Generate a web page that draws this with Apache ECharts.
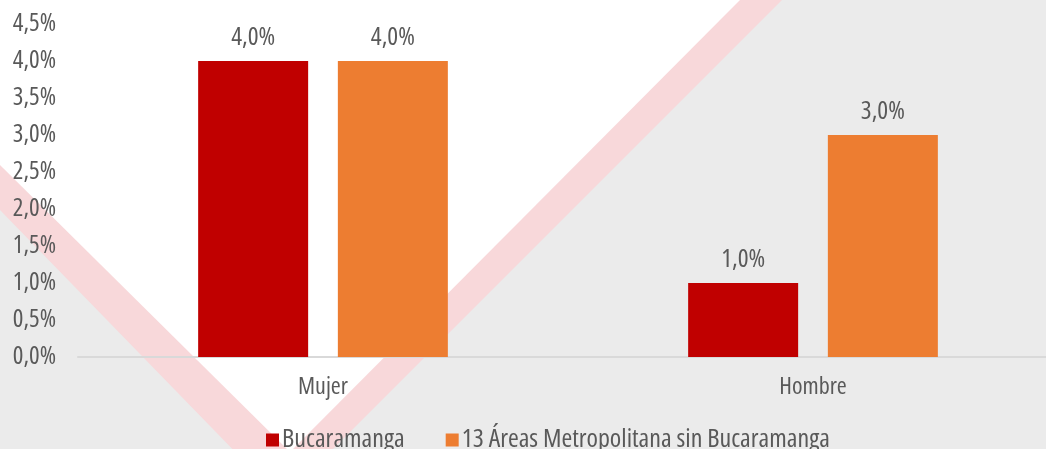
<!DOCTYPE html>
<html>
<head>
<meta charset="utf-8">
<script src="https://cdn.jsdelivr.net/npm/echarts@6/dist/echarts.min.js"></script>
<style>
  html, body { margin: 0; padding: 0; background: #ebebeb; }
  #chart { width: 1046px; height: 449px; }
</style>
</head>
<body>
<div id="chart"></div>
<script>
// chart data
var categories = ['Mujer', 'Hombre'];
var seriesNames = ['Bucaramanga', '13 Áreas Metropolitana sin Bucaramanga'];
var bucaramanga = [4.0, 1.0];
var areasMetro = [4.0, 3.0];
var colors = ['#c00000', '#ed7d31'];

// narrow sans look, like the original Arial Narrow
var FONT = "'Open Sans', 'Liberation Sans', sans-serif";
var STRETCH = 'normal condensed';
var TEXT_COLOR = '#595959';

// 4,0% style labels
function pct(v) {
  return Number(v).toFixed(1).replace('.', ',') + '%';
}

var chart = echarts.init(document.getElementById('chart'));

var barLabel = {
  show: true, position: 'top', distance: 10,
  fontFamily: FONT, fontWeight: STRETCH, fontSize: 25.5, color: TEXT_COLOR,
  formatter: function (p) { return pct(p.value); }
};

var option = {
  backgroundColor: '#ebebeb',
  animation: false,
  // decorative V shape behind the plot
  graphic: [
    {
      type: 'polygon', z: -10, silent: true,
      shape: { points: [[0, 0], [782, 0], [282, 500], [0, 210]] },
      style: { fill: '#f8d8da' }
    },
    {
      type: 'polygon', z: -9, silent: true,
      shape: { points: [[0, 0], [740, 0], [290, 452], [0, 165]] },
      style: { fill: '#ffffff' }
    }
  ],
  grid: { left: 78, top: 24, width: 980, height: 333, outerBoundsMode: 'none' },
  legend: {
    left: 261,
    top: 422,
    itemWidth: 13,
    itemHeight: 13,
    itemGap: 41,
    icon: 'rect',
    textStyle: {
      fontFamily: FONT, fontWeight: STRETCH, fontSize: 26, color: TEXT_COLOR,
      padding: [0, 0, 0, -2]
    },
    data: seriesNames
  },
  xAxis: {
    type: 'category',
    data: categories,
    axisLine: { show: true, lineStyle: { color: '#d9d9d9', width: 2 } },
    axisTick: { show: false },
    axisLabel: { fontFamily: FONT, fontWeight: STRETCH, fontSize: 24, color: TEXT_COLOR, margin: 18 },
    splitLine: { show: false }
  },
  yAxis: {
    type: 'value',
    min: 0,
    max: 4.5,
    interval: 0.5,
    axisLine: { show: false },
    axisTick: { show: false },
    splitLine: { show: false },
    axisLabel: {
      fontFamily: FONT, fontWeight: STRETCH, fontSize: 25, color: TEXT_COLOR, margin: 22,
      formatter: pct
    }
  },
  series: [
    {
      name: seriesNames[0],
      type: 'bar',
      data: bucaramanga,
      barWidth: 110,
      barGap: '27%',
      itemStyle: { color: colors[0] },
      label: barLabel
    },
    {
      name: seriesNames[1],
      type: 'bar',
      data: areasMetro,
      barWidth: 110,
      barGap: '27%',
      itemStyle: { color: colors[1] },
      label: barLabel
    }
  ]
};

chart.setOption(option);
</script>
</body>
</html>
